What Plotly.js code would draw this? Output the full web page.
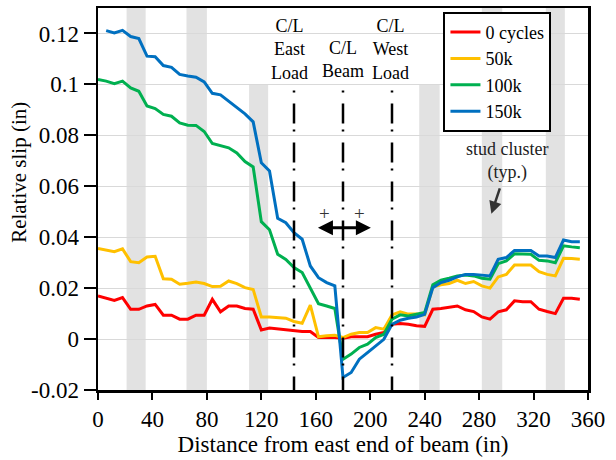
<!DOCTYPE html>
<html>
<head>
<meta charset="utf-8">
<script src="https://cdn.plot.ly/plotly-3.0.1.min.js"></script>
<style>html,body{margin:0;padding:0;background:#fff;}#chart{width:616px;height:460px;}</style>
</head>
<body>
<div id="chart"></div>
<script>
// Distance from east end of beam (in)
const distance = [0,6,12,18,24,30,36,42,48,54,60,66,72,78,84,90,96,102,108,114,
  120,126,132,138,144,150,156,162,168,174,180,186,192,198,204,210,216,222,228,234,
  240,246,252,258,264,270,276,282,288,294,300,306,312,318,324,330,336,342,348,354];

const slip0 = [0.0169,0.0160,0.0152,0.0163,0.0117,0.0117,0.0130,0.0136,0.0094,0.0094,
  0.0078,0.0078,0.0094,0.0094,0.0156,0.0107,0.0130,0.0130,0.0120,0.0117,
  0.0036,0.0043,0.0039,0.0036,0.0032,0.0030,0.0030,0.0006,0.0006,0.0006,
  0.0003,0.0009,0.0009,0.0009,0.0019,0.0026,0.0058,0.0061,0.0058,0.0052,
  0.0050,0.0117,0.0120,0.0124,0.0130,0.0115,0.0108,0.0087,0.0078,0.0107,
  0.0115,0.0150,0.0147,0.0147,0.0117,0.0108,0.0100,0.0160,0.0160,0.0156];

const slip50k = [0.0356,0.0350,0.0343,0.0354,0.0304,0.0300,0.0322,0.0325,0.0237,0.0235,
  0.0215,0.0219,0.0224,0.0218,0.0206,0.0207,0.0228,0.0218,0.0202,0.0195,
  0.0087,0.0087,0.0084,0.0082,0.0069,0.0062,0.0133,0.0009,0.0013,0.0015,
  0.0006,0.0019,0.0026,0.0026,0.0045,0.0039,0.0095,0.0107,0.0098,0.0098,
  0.0095,0.0205,0.0213,0.0218,0.0231,0.0218,0.0226,0.0209,0.0200,0.0244,
  0.0254,0.0291,0.0291,0.0291,0.0265,0.0254,0.0248,0.0317,0.0316,0.0313];

const slip100k = [0.1019,0.1013,0.1003,0.1013,0.0986,0.0973,0.0915,0.0905,0.0882,0.0875,
  0.0849,0.0840,0.0839,0.0815,0.0768,0.0760,0.0751,0.0731,0.0697,0.0676,
  0.0461,0.0429,0.0333,0.0313,0.0281,0.0261,0.0202,0.0139,0.0130,0.0120,
  -0.0079,-0.0059,-0.0033,-0.0020,0.0006,0.0019,0.0078,0.0095,0.0091,0.0098,
  0.0104,0.0213,0.0231,0.0239,0.0248,0.0252,0.0248,0.0239,0.0235,0.0296,
  0.0307,0.0335,0.0335,0.0333,0.0309,0.0307,0.0300,0.0366,0.0362,0.0359];

const slip150k = [null,0.1211,0.1202,0.1212,0.1188,0.1180,0.1111,0.1109,0.1074,0.1067,
  0.1039,0.1033,0.1028,0.1010,0.0965,0.0959,0.0935,0.0910,0.0884,0.0853,
  0.0692,0.0660,0.0474,0.0457,0.0418,0.0392,0.0287,0.0241,0.0222,0.0209,
  -0.0151,-0.0131,-0.0079,-0.0053,-0.0027,-0.0001,0.0058,0.0074,0.0082,0.0087,
  0.0097,0.0202,0.0222,0.0231,0.0244,0.0254,0.0254,0.0250,0.0248,0.0313,
  0.0320,0.0348,0.0348,0.0348,0.0326,0.0326,0.0320,0.0389,0.0382,0.0382];

const seriesNames = ["0 cycles","50k","100k","150k"];
const seriesColors = ["#ff0000","#ffc000","#00b050","#0070c0"];

// Stud cluster zones (in)
const clusterStart = [21,65,111,236,282,329];
const clusterEnd   = [35,80,125,251,297,343];
const clusterTop   = [0.13,0.13,0.1,0.1,0.13,0.13];

// Centerlines (in)
const centerlines = [144,180,216];
const centerlineLabels = ["C/L<br>East<br>Load","C/L<br>Beam","C/L<br>West<br>Load"];

const yTickVals = [-0.02,0,0.02,0.04,0.06,0.08,0.1,0.12];
const yTickText = ["-0.02","0","0.02","0.04","0.06","0.08","0.1","0.12"];
const xTickVals = [0,40,80,120,160,200,240,280,320,360];

const FONT = "Liberation Serif, Times New Roman, serif";
const series = [slip0, slip50k, slip100k, slip150k];

const traces = series.map((s,i)=>({
  x: distance, y: s, type:'scatter', mode:'lines', name: seriesNames[i],
  line:{color: seriesColors[i], width:3}, connectgaps:false
}));

const shapes = [];
clusterStart.forEach((s,i)=>{
  shapes.push({type:'rect', xref:'x', yref:'y', x0:s, x1:clusterEnd[i], y0:-0.02, y1:clusterTop[i],
    fillcolor:'#e2e2e2', line:{width:0}, layer:'below'});
});
centerlines.forEach(c=>{
  shapes.push({type:'line', xref:'x', yref:'y', x0:c, x1:c, y0:0.0976, y1:-0.02,
    line:{color:'#000', width:2.5, dash:'2px,11px,20px,6px'}, layer:'above'});
});

const annotations = [];
const clLabelY = [0.1137,0.1096,0.1137];
centerlines.forEach((c,i)=>{
  annotations.push({xref:'x', yref:'y', x:c-(i===0?3:(i===2?1:0)), y:clLabelY[i], text:centerlineLabels[i],
    showarrow:false, font:{family:FONT, size:18, color:'#000'}, align:'center', xanchor:'center', yanchor:'middle'});
});
// double-headed arrow
annotations.push({xref:'x', yref:'y', axref:'x', ayref:'y', x:200.5, y:0.0437, ax:160.5, ay:0.0437,
  text:'', showarrow:true, arrowhead:2, startarrowhead:2, arrowside:'end+start', arrowsize:1, arrowwidth:3, arrowcolor:'#000'});
annotations.push({xref:'x', yref:'y', x:166.5, y:0.0492, text:'+', showarrow:false, font:{family:FONT, size:19, color:'#333'}});
annotations.push({xref:'x', yref:'y', x:192.2, y:0.0492, text:'+', showarrow:false, font:{family:FONT, size:19, color:'#333'}});
// stud cluster label
annotations.push({xref:'x', yref:'y', x:301, y:0.0700, text:'stud cluster<br>(typ.)', showarrow:false,
  font:{family:FONT, size:18, color:'#222'}, align:'center'});
annotations.push({xref:'x', yref:'y', axref:'x', ayref:'y', x:289, y:0.0492, ax:295.6, ay:0.0598,
  text:'', showarrow:true, arrowhead:2, arrowsize:1, arrowwidth:2.5, arrowcolor:'#333'});
// y axis title
annotations.push({xref:'paper', yref:'paper', x:-0.16, y:0.57, xanchor:'center', yanchor:'middle',
  text:'Relative slip (in)', textangle:-90, showarrow:false, font:{family:FONT, size:21, color:'#000'}});

const layout = {
  width:616, height:460,
  margin:{l:98, r:28, t:8, b:70},
  paper_bgcolor:'#fff', plot_bgcolor:'#fff',
  font:{family:FONT, color:'#000'},
  showlegend:true,
  legend:{x:0.705, y:0.99, xanchor:'left', yanchor:'top', bgcolor:'#fff', bordercolor:'#000', borderwidth:2,
    font:{family:FONT, size:18, color:'#000'}, tracegroupgap:0},
  xaxis:{range:[0,360], tickvals:xTickVals, ticks:'outside', ticklen:7, tickwidth:2, tickcolor:'#000',
    showline:true, linecolor:'#000', linewidth:2.5, mirror:true, showgrid:false, zeroline:false,
    tickfont:{family:FONT, size:23, color:'#000'},
    title:{text:'Distance from east end of beam (in)', font:{family:FONT, size:23, color:'#000'}, standoff:5}},
  yaxis:{range:[-0.02,0.13], tickvals:yTickVals, ticktext:yTickText, ticks:'outside', ticklen:12, tickwidth:2, tickcolor:'#000',
    showline:true, linecolor:'#000', linewidth:2.5, mirror:true, showgrid:true, gridcolor:'#d9d9d9', gridwidth:1, zeroline:false,
    tickfont:{family:FONT, size:23, color:'#000'}},
  shapes:shapes, annotations:annotations
};

Plotly.newPlot('chart', traces, layout, {displayModeBar:false, staticPlot:true});
</script>
</body>
</html>
